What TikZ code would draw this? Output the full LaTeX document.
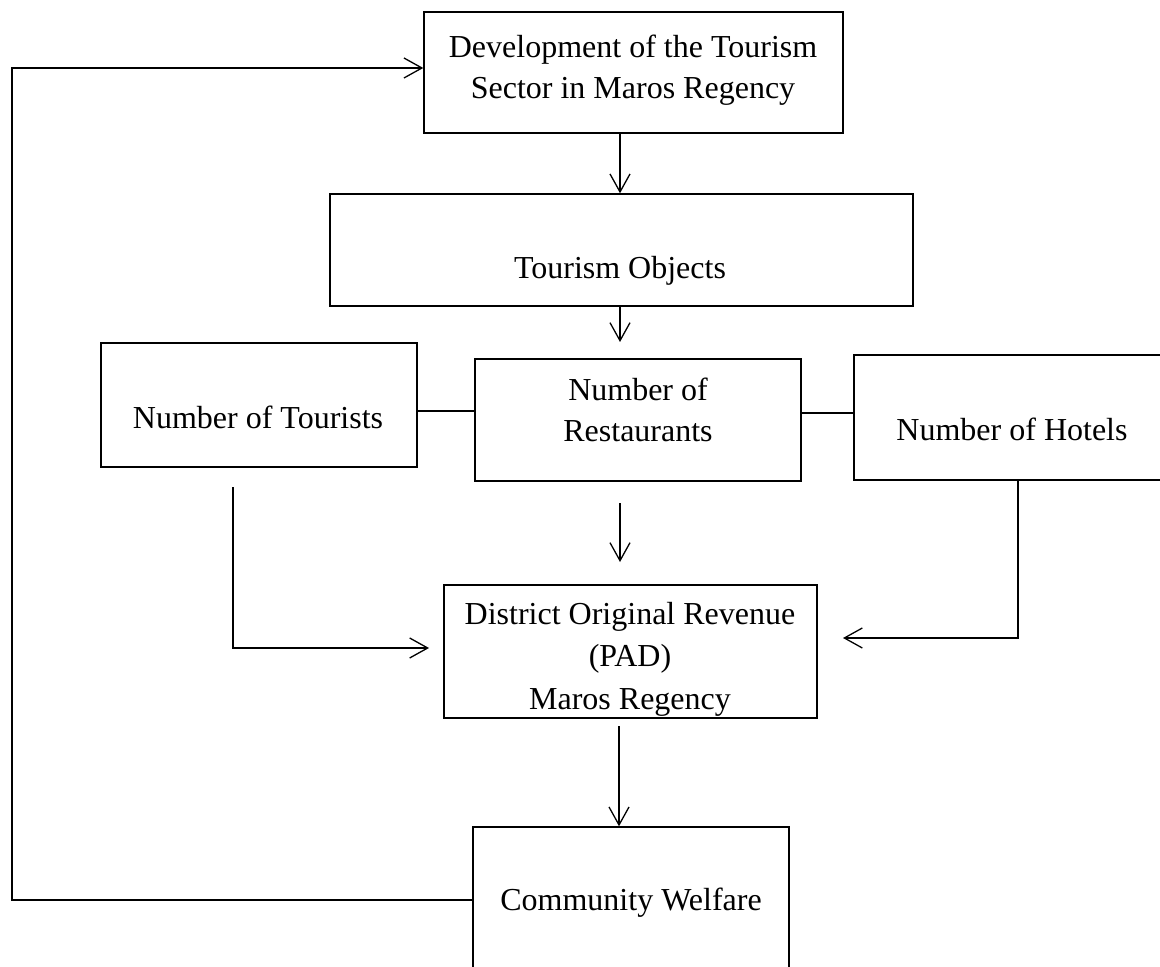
\documentclass[tikz,border=0pt]{standalone}
\usepackage{fontspec}
\setmainfont{Liberation Serif}
\usetikzlibrary{arrows.meta,fit}
\begin{document}
\begin{tikzpicture}[x=0.5pt,y=-0.5pt,
  box/.style={draw, line width=0.7pt, rectangle, inner sep=0pt},
  txt/.style={font=\fontsize{16}{20.5}\selectfont, align=center, inner sep=0pt},
  conn/.style={line width=0.65pt},
  arr/.style={conn, -{Straight Barb[length=9pt,width=10pt]}}
]
\useasboundingbox (0,0) rectangle (1160,967);
\clip (0,0) rectangle (1160,967);
% boxes
\node[box, fit={(424,12) (843,133)}] (dev) {};
\node[box, fit={(330,194) (913,306)}] (obj) {};
\node[box, fit={(101,343) (417,467)}] (tour) {};
\node[box, fit={(475,359) (801,481)}] (rest) {};
\node[box, fit={(854,355) (1170,480)}] (hot) {};
\node[box, fit={(444,585) (817,718)}] (pad) {};
\node[box, fit={(473,827) (789,975)}] (comm) {};
% texts
\node[txt] (devT) at (633,70) {Development of the Tourism\\Sector in Maros Regency};
\node[txt] (objT) at (620,271) {Tourism Objects};
\node[txt] (tourT) at (258,417) {Number of Tourists};
\node[txt] (restT) at (638,410) {Number of\\Restaurants};
\node[txt] (hotT) at (1012,429) {Number of Hotels};
\node[txt, font=\fontsize{16}{21.25}\selectfont] (padT) at (630,659) {District Original Revenue\\(PAD)\\Maros Regency};
\node[txt] (commT) at (631,903) {Community Welfare};
% free ends
\coordinate (orTip) at (620,342);
\coordinate (rpA) at (620,503);
\coordinate (rpB) at (620,562);
\coordinate (tpA) at (233,487);
\coordinate (tpB) at (429,648);
\coordinate (hpB) at (843,638);
\coordinate (pcA) at (619,726);
\coordinate (fbA) at (12,900);
\coordinate (fbB) at (12,68);
% connectors
\draw[arr] (dev.south -| 620,0) -- (obj.north -| 620,0);
\draw[arr] (obj.south -| 620,0) -- (orTip);
\draw[arr] (rpA) -- (rpB);
\draw[arr] (tpA) |- (tpB);
\draw[arr] (hot.south -| 1018,0) |- (hpB);
\draw[arr] (pcA) -- (comm.north -| 619,0);
\draw[conn] (tour.east |- 0,411) -- (rest.west |- 0,411);
\draw[conn] (rest.east |- 0,413) -- (hot.west |- 0,413);
\draw[arr] (comm.west |- fbA) -- (fbA) -- (fbB) -- (dev.west |- fbB);
\end{tikzpicture}
\end{document}
